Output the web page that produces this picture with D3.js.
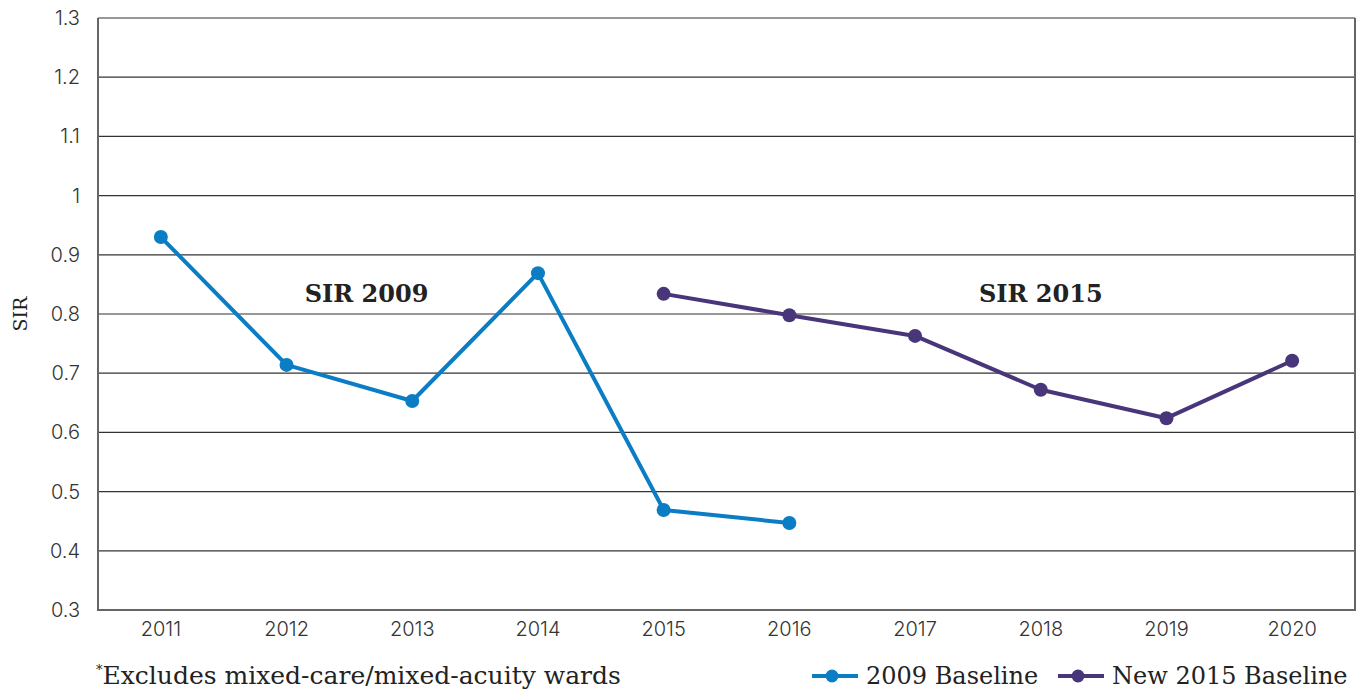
<!DOCTYPE html>
<html>
<head>
<meta charset="utf-8">
<script src="https://cdn.jsdelivr.net/npm/d3@7"></script>
<style>
  body { margin: 0; background: #fff; }
  svg { display: block; }
  .tick text { font-family: Inter, "Open Sans", sans-serif; font-weight: 300; font-size: 20px; fill: #333; }
  .serif { font-family: "DejaVu Serif", "Liberation Serif", serif; fill: #222; }
</style>
</head>
<body>
<svg width="1364" height="690"></svg>
<script>
// categories and series
var years = ["2011", "2012", "2013", "2014", "2015", "2016", "2017", "2018", "2019", "2020"];
var sir2009 = [0.930, 0.714, 0.653, 0.869, 0.469, 0.447, null, null, null, null];
var sir2015 = [null, null, null, null, 0.834, 0.798, 0.763, 0.672, 0.624, 0.721];
var yTicks = [0.3, 0.4, 0.5, 0.6, 0.7, 0.8, 0.9, 1, 1.1, 1.2, 1.3];

var blue = "#0a7dc4",
  purple = "#49367a";

var svg = d3.select("svg"),
  margin = { top: 18, right: 9, bottom: 80, left: 98 };

var width = 1364 - margin.left - margin.right,
  height = 690 - margin.top - margin.bottom;

var g = svg.append("g")
  .attr("transform", "translate(" + margin.left + "," + margin.top + ")");

var x = d3.scaleBand().domain(years).range([0, width]);
var y = d3.scaleLinear().domain([0.3, 1.3]).range([height, 0]);

// horizontal grid
g.append("g")
  .selectAll("line")
  .data(yTicks)
  .enter().append("line")
  .attr("x1", 0)
  .attr("x2", width)
  .attr("y1", function(d) { return y(d); })
  .attr("y2", function(d) { return y(d); })
  .attr("stroke", "#333")
  .attr("stroke-width", 1.2);

// y axis labels
var yAxis = d3.axisLeft(y)
  .tickValues(yTicks)
  .tickFormat(function(d) { return String(+d.toFixed(1)); })
  .tickSize(0)
  .tickPadding(18);

g.append("g")
  .attr("class", "axis axisy")
  .call(yAxis)
  .call(function(s) { s.select(".domain").remove(); });

// x axis labels
var xAxis = d3.axisBottom(x).tickSize(0).tickPadding(12);
g.append("g")
  .attr("class", "axis axisx")
  .attr("transform", "translate(0," + height + ")")
  .call(xAxis)
  .call(function(s) { s.select(".domain").remove(); });

// frame: left, bottom, right
g.append("path")
  .attr("d", "M0,0V" + height + "H" + width + "V0")
  .attr("fill", "none")
  .attr("stroke", "#666")
  .attr("stroke-width", 2);

var cx = function(i) { return x(years[i]) + x.bandwidth() / 2; };

function drawSeries(vals, color) {
  var pts = vals.map(function(v, i) { return { i: i, v: v }; })
    .filter(function(d) { return d.v !== null; });
  var line = d3.line()
    .x(function(d) { return cx(d.i); })
    .y(function(d) { return y(d.v); });
  g.append("path")
    .datum(pts)
    .attr("d", line)
    .attr("fill", "none")
    .attr("stroke", color)
    .attr("stroke-width", 4)
    .attr("stroke-linejoin", "round");
  g.selectAll(null)
    .data(pts)
    .enter().append("circle")
    .attr("cx", function(d) { return cx(d.i); })
    .attr("cy", function(d) { return y(d.v); })
    .attr("r", 7)
    .attr("fill", color);
}

drawSeries(sir2009, blue);
drawSeries(sir2015, purple);

// series annotations
g.append("text").attr("class", "serif")
  .attr("x", cx(1) + 80).attr("y", y(0.8) - 12)
  .attr("text-anchor", "middle")
  .attr("font-size", 24).attr("font-weight", "bold")
  .text("SIR 2009");
g.append("text").attr("class", "serif")
  .attr("x", cx(7)).attr("y", y(0.8) - 12)
  .attr("text-anchor", "middle")
  .attr("font-size", 24).attr("font-weight", "bold")
  .text("SIR 2015");

// y label
svg.append("text").attr("class", "serif")
  .attr("transform", "translate(27," + (margin.top + y(0.8)) + ") rotate(-90)")
  .attr("text-anchor", "middle")
  .attr("font-size", 19)
  .text("SIR");

// footnote
var foot = svg.append("text").attr("class", "serif")
  .attr("x", 96).attr("y", 684)
  .attr("font-size", 25);
foot.append("tspan").attr("font-size", 13).attr("dy", -10).text("*");
foot.append("tspan").attr("dy", 10).text("Excludes mixed-care/mixed-acuity wards");

// legend
var legend = [
  { label: "2009 Baseline", color: blue, x: 812 },
  { label: "New 2015 Baseline", color: purple, x: 1058 }
];
var lg = svg.selectAll(".lg").data(legend).enter().append("g")
  .attr("class", "lg")
  .attr("transform", function(d) { return "translate(" + d.x + ",676)"; });
lg.append("line").attr("x1", 0).attr("x2", 46)
  .attr("stroke", function(d) { return d.color; }).attr("stroke-width", 4);
lg.append("circle").attr("cx", 20).attr("r", 6.5)
  .attr("fill", function(d) { return d.color; });
lg.append("text").attr("class", "serif")
  .attr("x", 54).attr("y", 8)
  .attr("font-size", 24)
  .text(function(d) { return d.label; });
</script>
</body>
</html>
